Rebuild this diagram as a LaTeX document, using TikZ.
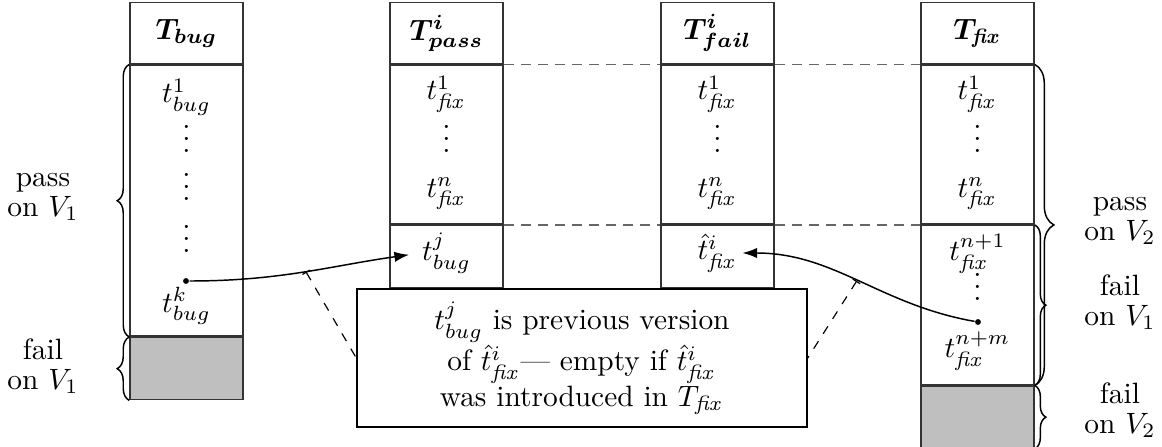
\documentclass[tikz,border=0pt]{standalone}
\usepackage{amsmath}
\usepackage{bm}
\usetikzlibrary{arrows.meta,decorations.pathreplacing}
\newcommand\fx{\mathit{fix}}
\begin{document}
\begin{tikzpicture}[x=0.34pt,y=-0.34pt,
  cell/.style={draw=black!80, line width=0.5pt, minimum width=38.42pt, inner sep=0pt, anchor=north},
  gcell/.style={cell, fill=black!25},
  txt/.style={inner sep=0pt},
  vd/.style={inner sep=0pt, anchor=base, text height=9.2pt, text depth=0pt},
  lbl/.style={align=center, inner sep=0pt},
  brc/.style={decorate, decoration={brace, amplitude=#1}, line width=0.5pt},
  conn/.style={-{Latex[length=5pt,width=3.5pt]}, line width=0.5pt},
  guide/.style={draw=black!60, line width=0.5pt, dash pattern=on 3.4pt off 2.4pt},
  callout/.style={line width=0.4pt, dashed, {Bar[width=3pt]}-},
  pt/.style={circle, fill, inner sep=0pt, minimum size=2pt}
]
\useasboundingbox (0,0) rectangle (1162,447);

% column T_bug
\node[cell, minimum height=20.74pt] (bugH) at (186.5,2) {$\bm{T_{bug}}$};
\node[cell, minimum height=92.14pt] (bugP) at (bugH.south) {};
\node[gcell, minimum height=21.08pt] (bugF) at (bugP.south) {};
\node[txt] (b1) at (186.5,97) {$t^1_{bug}$};
\node[vd] (bd1) at (186.5,152.5) {$\vdots$};
\node[vd] (bd2) at (186.5,200.5) {$\vdots$};
\node[vd] (bd3) at (186.5,252.5) {$\vdots$};
\node[pt] (bk) at (186,281) {};
\node[txt] (bkt) at (186.5,306) {$t^k_{bug}$};

% column T_pass
\node[cell, minimum height=20.74pt] (passH) at (446.5,2) {$\bm{T^i_{pass}}$};
\node[cell, minimum height=54.06pt] (passB) at (passH.south) {};
\node[cell, minimum height=21.08pt] (passC) at (passB.south) {};
\node[txt] (p1) at (446.5,94) {$t^1_{\fx}$};
\node[vd] (pd1) at (446.5,152.5) {$\vdots$};
\node[txt] (pn) at (446.5,194) {$t^n_{\fx}$};
\node[txt] (tj) at (446.5,253) {$t^j_{bug}$};

% column T_fail
\node[cell, minimum height=20.74pt] (failH) at (717.5,2) {$\bm{T^i_{fail}}$};
\node[cell, minimum height=54.06pt] (failB) at (failH.south) {};
\node[cell, minimum height=21.08pt] (failC) at (failB.south) {};
\node[txt] (f1) at (717.5,94) {$t^1_{\fx}$};
\node[vd] (fd1) at (717.5,152.5) {$\vdots$};
\node[txt] (fn) at (717.5,194) {$t^n_{\fx}$};
\node[txt] (th) at (717.5,253) {$\hat{t}^i_{\fx}$};

% column T_fix
\node[cell, minimum height=20.74pt] (fixH) at (977.5,2) {$\bm{T_{\fx}}$};
\node[cell, minimum height=54.06pt] (fixA) at (fixH.south) {};
\node[cell, minimum height=54.06pt] (fixB) at (fixA.south) {};
\node[gcell, minimum height=21.08pt] (fixG) at (fixB.south) {};
\node[txt] (x1) at (977.5,94) {$t^1_{\fx}$};
\node[vd] (xd1) at (977.5,152.5) {$\vdots$};
\node[txt] (xn) at (977.5,194) {$t^n_{\fx}$};
\node[txt] (xn1) at (977.5,254) {$t^{n+1}_{\fx}$};
\node[vd] (xd2) at (977.5,300.5) {$\vdots$};
\node[pt] (xm) at (978,322) {};
\node[txt] (xnm) at (977.5,351) {$t^{n+m}_{\fx}$};

% guides
\draw[guide] (passB.north east) -- (failB.north west);
\draw[guide] (failB.north east) -- (fixA.north west);
\draw[guide] (passB.south east) -- (failB.south west);
\draw[guide] (failB.south east) -- (fixA.south west);

% note
\node[draw, line width=0.5pt, minimum width=153pt, minimum height=46.92pt, align=center, inner sep=2pt] (note) at (582,358)
  {$t^j_{bug}$ is previous version\\ of $\hat{t}^i_{\fx}$--- empty if $\hat{t}^i_{\fx}$\\ was introduced in $T_{\fx}$};

% connectors
\draw[conn, shorten >=4.3pt] (bk) to[out=0, in=188] coordinate[pos=0.5] (m1) (tj.west);
\draw[conn, shorten >=1.5pt] (xm) to[out=170, in=0] coordinate[pos=0.5] (m2) (th.east);
\draw[callout] (m1) -- (note.west);
\draw[callout] (m2) -- (note.east);

% braces
\draw[brc=4.1pt] (bugP.south west) -- (bugP.north west);
\draw[brc=4.1pt] (bugF.south west) -- (bugF.north west);
\draw[brc=6.5pt] (fixA.north east) -- (fixB.south east);
\draw[brc=3.8pt] (fixB.north east) -- (fixB.south east);
\draw[brc=3.8pt] (fixG.north east) -- (fixG.south east);

% labels
\node[lbl] (lp) at (43,197) {pass\\[-1.7pt] on $V_1$};
\node[lbl] (lf) at (43,366) {fail\\[-1.7pt] on $V_1$};
\node[lbl] (rp) at (1120,221) {pass\\[-1.7pt] on $V_2$};
\node[lbl] (rf) at (1120,302) {fail\\[-1.7pt] on $V_1$};
\node[lbl] (rf2) at (1120,410) {fail\\[-1.7pt] on $V_2$};
\end{tikzpicture}
\end{document}
